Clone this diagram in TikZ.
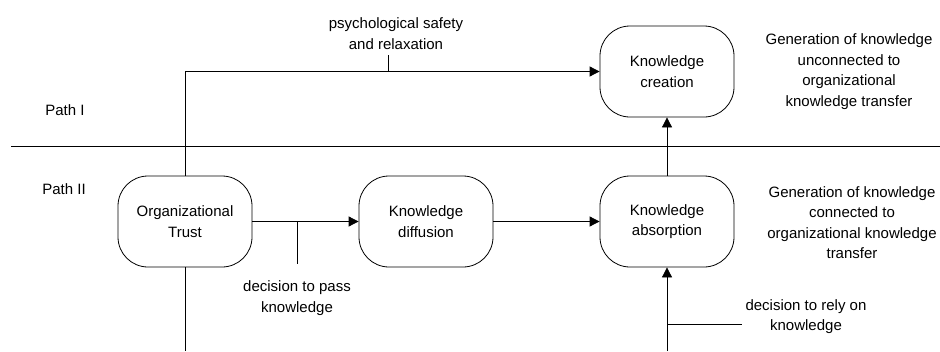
\documentclass[tikz,border=0pt]{standalone}
\usepackage{fontspec}
\setmainfont{Liberation Sans}
\usetikzlibrary{arrows.meta}
\begin{document}
\begin{tikzpicture}[x=1pt,y=-1pt,
  every node/.style={font=\fontsize{15}{20.5}\selectfont, align=center, inner sep=0pt},
  procbox/.style={draw, line width=0.8pt, rounded corners=30pt, minimum width=134pt, minimum height=91pt},
  arr/.style={-{Triangle[length=10pt,width=10pt]}},
  line/.style={line width=0.8pt}]
\useasboundingbox (0,0) rectangle (940,351);
\coordinate (bottom) at (0,351);
% divider
\coordinate (divL) at (11,146);
\coordinate (divR) at (940,146);
\draw[line] (divL) -- (divR);
\node (p1) at (65,110) {Path I};
\node (p2) at (64,189) {Path II};
% boxes
\node[procbox] (org) at (185,221.5) {Organizational\\Trust};
\node[procbox] (diff) at (426,221.5) {Knowledge\\diffusion};
\node[procbox] (abs) at (667,221.5) {Knowledge\\absorption};
\node[procbox] (cre) at (667,71.5) {Knowledge\\creation};
% connectors
\draw[line,arr] (org.north) -- (org.north |- cre.west) -- (cre.west);
\coordinate (t1) at (388,71.5);
\coordinate (t1e) at (388,55);
\draw[line] (t1) -- (t1e);
\node (psy) at (396,33.5) {psychological safety\\and relaxation};
\draw[line,arr] (org.east) -- (diff.west);
\coordinate (t2) at (297,221.5);
\coordinate (t2e) at (297,264);
\draw[line] (t2) -- (t2e);
\node (pass) at (297,298) {decision to pass\\knowledge};
\draw[line,arr] (diff.east) -- (abs.west);
\draw[line,arr] (abs.north) -- (cre.south);
\draw[line] (org.south) -- (org.south |- bottom);
\draw[line,arr] (abs.south |- bottom) -- (abs.south);
\coordinate (t3) at (667,324);
\coordinate (t3e) at (742,324);
\draw[line] (t3) -- (t3e);
\node (rely) at (806,316.5) {decision to rely on\\knowledge};
\node (gen1) at (849,71.5) {Generation of knowledge\\unconnected to\\organizational\\knowledge transfer};
\node (gen2) at (852,222.5) {Generation of knowledge\\connected to\\organizational knowledge\\transfer};
\end{tikzpicture}
\end{document}
